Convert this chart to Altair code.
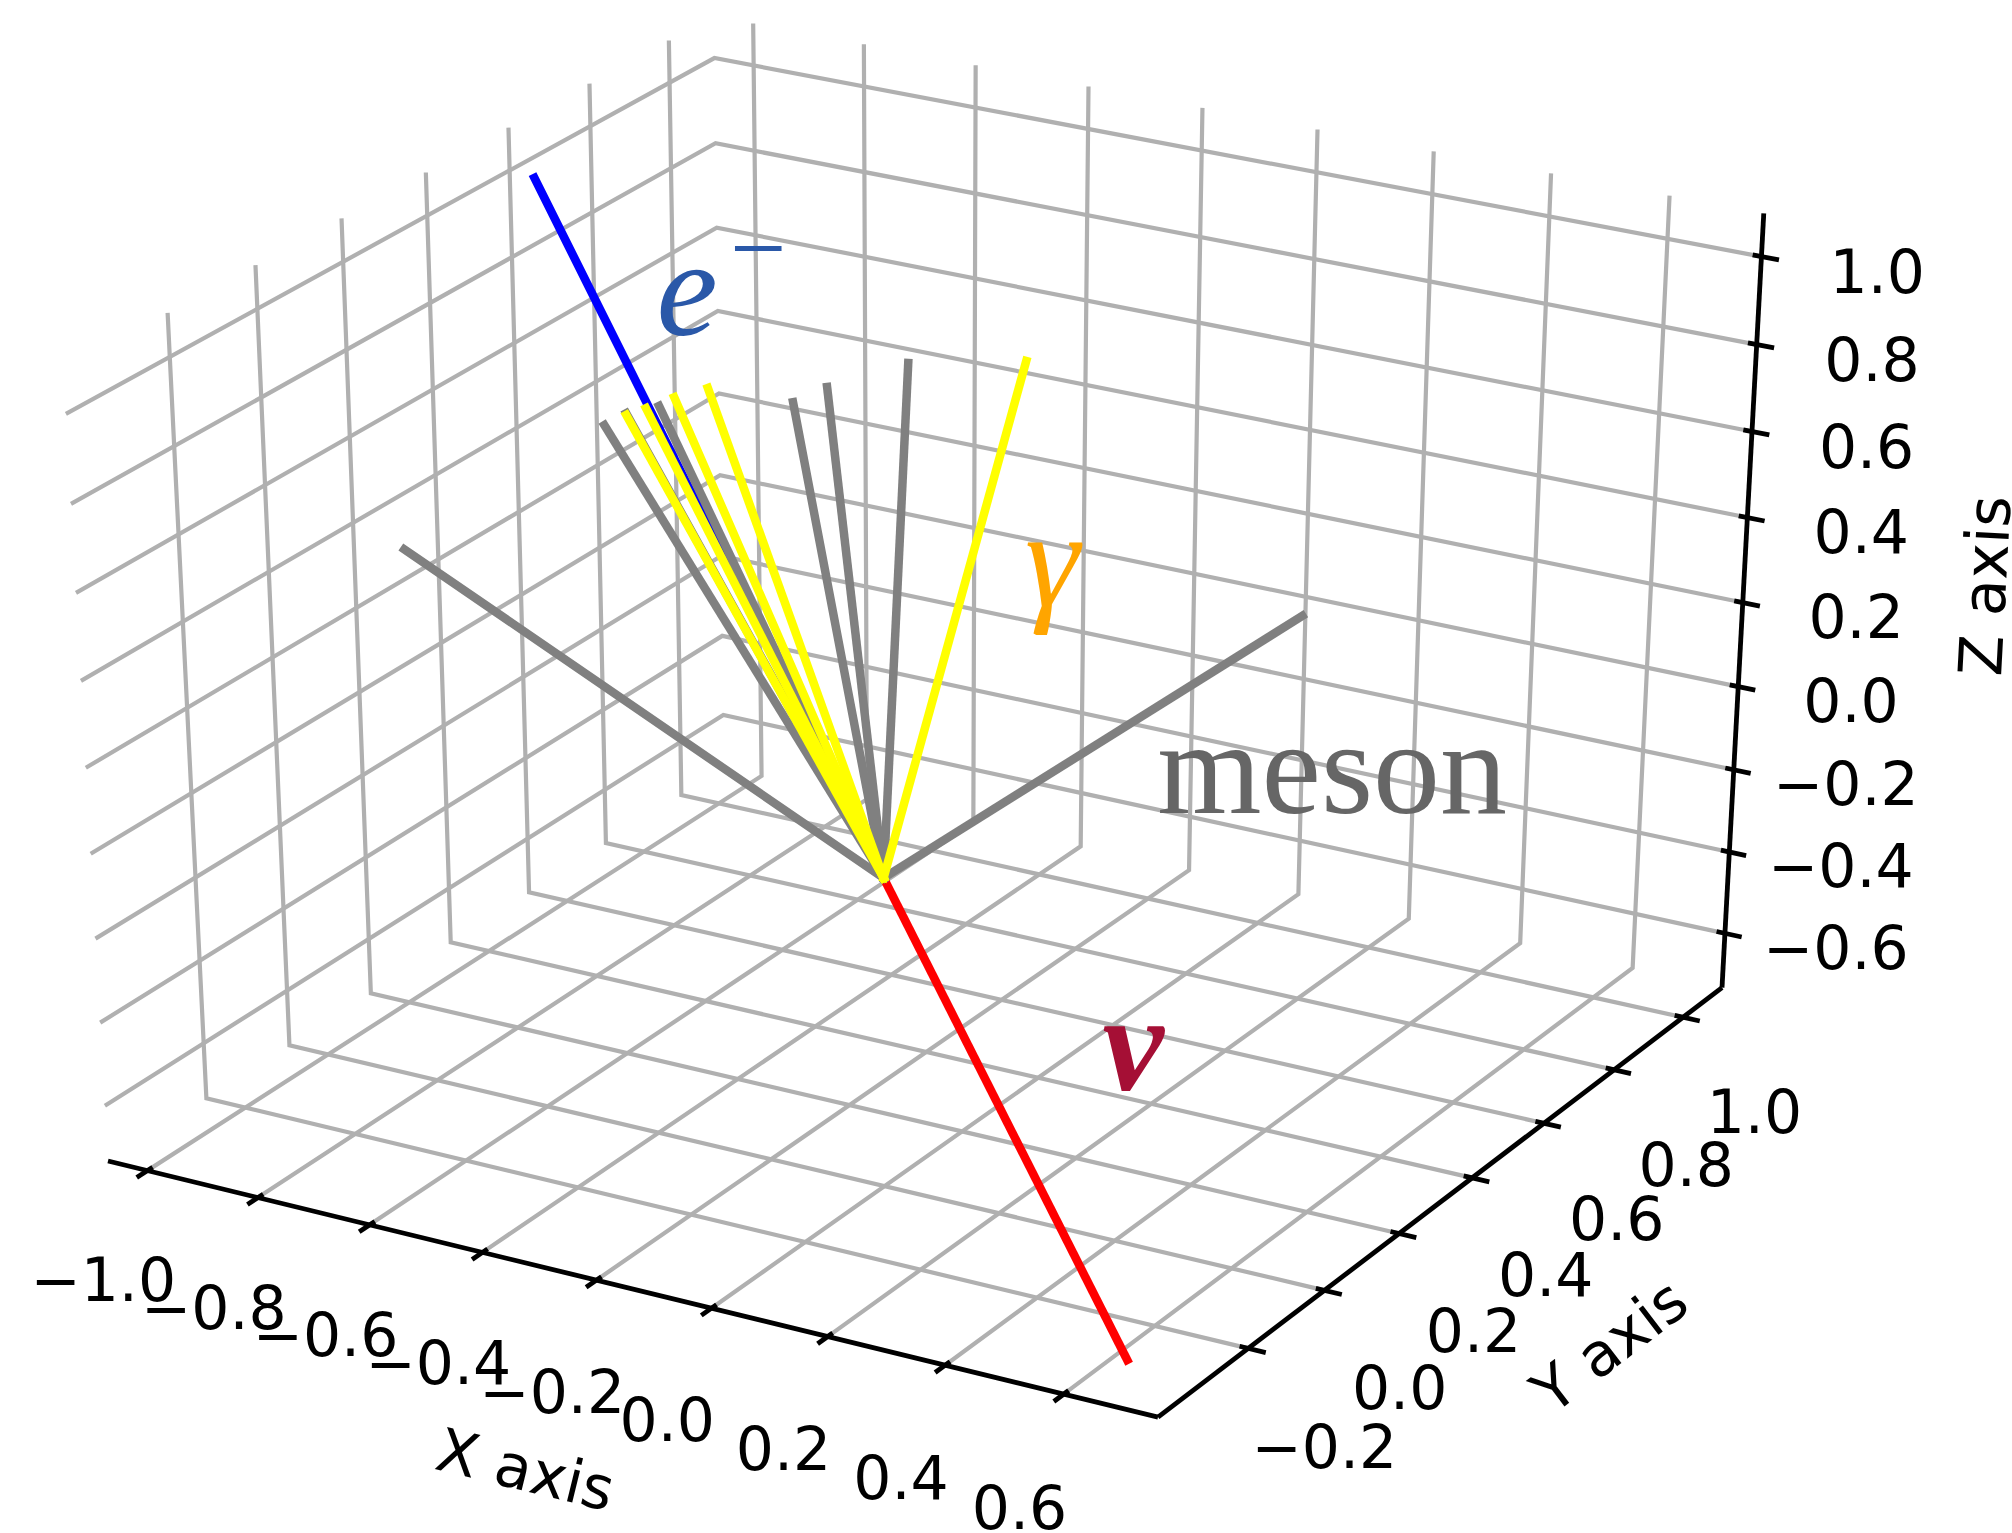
import math
import numpy as np
import pandas as pd
import altair as alt

# ---------------- data (3D, data units) ----------------
XLIM = [-1.035, 0.721]
YLIM = [-0.401, 1.084]
ZLIM = [-0.698, 1.061]
X_TICKS = [-1.0, -0.8, -0.6, -0.4, -0.2, 0.0, 0.2, 0.4, 0.6]
Y_TICKS = [-0.2, 0.0, 0.2, 0.4, 0.6, 0.8, 1.0]
Z_TICKS = [-0.6, -0.4, -0.2, 0.0, 0.2, 0.4, 0.6, 0.8, 1.0]

ORIGIN = (0.0, 0.0, 0.0)
ELECTRON_END = (-0.990, 0.55, 1.029)
NEUTRINO_END = (0.685, -0.401, -0.646)
MESON_X = [-0.827, 0.129, -0.691, -0.652, -0.594, -0.501, -0.441, -0.368]
MESON_Y = [0.0, 0.9, 0.3, 0.3, 0.3, 0.5, 0.5, 0.6]
MESON_Z = [0.520, 0.115, 0.674, 0.712, 0.744, 0.668, 0.719, 0.739]
GAMMA_X = [-0.652, -0.617, -0.567, -0.508, -0.163]
GAMMA_Y = [0.3, 0.3, 0.3, 0.3, 0.6]
GAMMA_Z = [0.708, 0.733, 0.771, 0.808, 0.798]

LABEL_E_POS = (-0.542, 0.3, 0.988)
LABEL_G_POS = (0.084, 0.3, 0.510)
LABEL_M_POS = (0.375, 0.6, -0.033)
LABEL_N_POS = (0.427, 0.0, -0.292)

AXIS_TITLES = ["X axis", "Y axis", "Z axis"]

# ---------------- view / projection settings ----------------
ELEV, AZIM, DIST = 30.0, -60.0, 10.0
VIEW_TX = [-0.079759, 0.093167]
VIEW_TY = [-0.097013, 0.079762]
W, H = 2012, 1533

lims = np.array([XLIM, YLIM, ZLIM], dtype=float)
lo, hi = lims[:, 0], lims[:, 1]
span = hi - lo
delta = span / 12.0
plo = lo - delta / 4.0
phi = hi + delta / 4.0
ctr = (lo + hi) / 2.0

el, az = math.radians(ELEV), math.radians(AZIM)
wv = np.array([math.cos(el) * math.cos(az), math.cos(el) * math.sin(az), math.sin(el)])
uv = np.cross([0.0, 0.0, 1.0], wv)
uv = uv / np.linalg.norm(uv)
vv = np.cross(wv, uv)


def proj(p):
    q = (np.asarray(p, dtype=float) - ctr) / span
    d = DIST - q @ wv
    return float(q @ uv / d), float(q @ vv / d)


SX = W / (VIEW_TX[1] - VIEW_TX[0])
SY = H / (VIEW_TY[1] - VIEW_TY[0])


def screen_angle(p1, p2):
    a = proj(p1)
    b = proj(p2)
    ang = math.degrees(math.atan2(-(b[1] - a[1]) * SY, (b[0] - a[0]) * SX))
    if ang <= -90:
        ang += 180
    if ang > 90:
        ang -= 180
    return ang % 360


XS = alt.Scale(domain=VIEW_TX, nice=False, zero=False)
YS = alt.Scale(domain=VIEW_TY, nice=False, zero=False)


def poly_rows(gid, pts):
    rows = []
    for i, p in enumerate(pts):
        tx, ty = proj(p)
        rows.append(dict(gid=gid, ord=i, tx=tx, ty=ty))
    return rows


def line_layer(rows, color, width, cap="butt"):
    return alt.Chart(pd.DataFrame(rows)).mark_line(
        color=color, strokeWidth=width, strokeCap=cap
    ).encode(
        x=alt.X("tx:Q", scale=XS, axis=None),
        y=alt.Y("ty:Q", scale=YS, axis=None),
        detail="gid:N",
        order="ord:Q",
    )


def pane_layer(corners, color):
    pts = [proj(c) for c in corners]
    xs = sorted(set(p[0] for p in pts))
    rows = []
    n = len(pts)
    for x in xs:
        ys = []
        for i in range(n):
            (x1, y1), (x2, y2) = pts[i], pts[(i + 1) % n]
            if min(x1, x2) - 1e-12 <= x <= max(x1, x2) + 1e-12:
                if abs(x2 - x1) < 1e-12:
                    ys += [y1, y2]
                else:
                    t = (x - x1) / (x2 - x1)
                    ys.append(y1 + t * (y2 - y1))
        rows.append(dict(tx=x, lo=min(ys), hi=max(ys)))
    return alt.Chart(pd.DataFrame(rows)).mark_area(color=color, opacity=1, interpolate="linear").encode(
        x=alt.X("tx:Q", scale=XS, axis=None),
        y=alt.Y("hi:Q", scale=YS, axis=None),
        y2="lo:Q",
        order="tx:Q",
    )


def text_layer(pos, text, **kw):
    tx, ty = proj(pos)
    df = pd.DataFrame([dict(tx=tx, ty=ty, label=text)])
    return alt.Chart(df).mark_text(**kw).encode(
        x=alt.X("tx:Q", scale=XS, axis=None),
        y=alt.Y("ty:Q", scale=YS, axis=None),
        text="label:N",
    )


def fmt(v):
    s = f"{v:.1f}"
    if s == "-0.0":
        s = "0.0"
    return s.replace("-", "\u2212")


x0, y0, z0 = plo
x1, y1, z1 = phi

# panes
panes = [
    pane_layer([(x0, y0, z0), (x0, y0, z1), (x0, y1, z1), (x0, y1, z0)], "#f7f7f7"),
    pane_layer([(x0, y1, z0), (x0, y1, z1), (x1, y1, z1), (x1, y1, z0)], "#f0f0f0"),
    pane_layer([(x0, y0, z0), (x1, y0, z0), (x1, y1, z0), (x0, y1, z0)], "#f4f4f4"),
]

# grid lines
grid = []
for i, v in enumerate(X_TICKS):
    grid += poly_rows(f"gx{i}", [(v, y0, z0), (v, y1, z0), (v, y1, z1)])
for i, v in enumerate(Y_TICKS):
    grid += poly_rows(f"gy{i}", [(x0, v, z1), (x0, v, z0), (x1, v, z0)])
for i, v in enumerate(Z_TICKS):
    grid += poly_rows(f"gz{i}", [(x1, y1, v), (x0, y1, v), (x0, y0, v)])

# axis lines
axes_rows = []
axes_rows += poly_rows("ax", [(x0, y0, z0), (x1, y0, z0)])
axes_rows += poly_rows("ay", [(x1, y0, z0), (x1, y1, z0)])
axes_rows += poly_rows("az", [(x1, y1, z0), (x1, y1, z1)])

# ticks + tick labels
OUT, INW = 0.2, 0.1
TL = (3.5 + 8.0) * 48.0 / (72.0 * (6.4 * 0.775 + 4.8 * 0.77))
AL = (4.0 + 21.0) * 48.0 / (72.0 * (6.4 * 0.775 + 4.8 * 0.77))
dx, dy, dz = delta
tick_rows, tlab = [], []
for i, v in enumerate(X_TICKS):
    tick_rows += poly_rows(f"tx{i}", [(v, y0 - OUT * dy, z0), (v, y0 + INW * dy, z0)])
    tx, ty = proj((v, y0 - TL * dy, z0 - TL * dz))
    tlab.append(dict(tx=tx, ty=ty, label=fmt(v)))
for i, v in enumerate(Y_TICKS):
    tick_rows += poly_rows(f"ty{i}", [(x1 + OUT * dx, v, z0), (x1 - INW * dx, v, z0)])
    tx, ty = proj((x1 + TL * dx, v, z0 - TL * dz))
    tlab.append(dict(tx=tx, ty=ty, label=fmt(v)))
for i, v in enumerate(Z_TICKS):
    tick_rows += poly_rows(f"tz{i}", [(x1 + OUT * dx, y1, v), (x1 - INW * dx, y1, v)])
    tx, ty = proj((x1 + TL * dx, y1 + TL * dy, v))
    tlab.append(dict(tx=tx, ty=ty, label=fmt(v)))

tick_label_layer = alt.Chart(pd.DataFrame(tlab)).mark_text(
    align="center", baseline="top", font="DejaVu Sans", fontSize=60, color="black"
).encode(
    x=alt.X("tx:Q", scale=XS, axis=None),
    y=alt.Y("ty:Q", scale=YS, axis=None),
    text="label:N",
)

cx, cy, cz = ctr
axis_title_layers = [
    text_layer((cx, y0 - AL * dy, z0 - AL * dz), AXIS_TITLES[0], align="center", baseline="middle",
               font="DejaVu Sans", fontSize=60, color="black",
               angle=screen_angle((x0, y0, z0), (x1, y0, z0))),
    text_layer((x1 + AL * dx, cy, z0 - AL * dz), AXIS_TITLES[1], align="center", baseline="middle",
               font="DejaVu Sans", fontSize=60, color="black",
               angle=screen_angle((x1, y0, z0), (x1, y1, z0))),
    text_layer((x1 + AL * dx, y1 + AL * dy, cz), AXIS_TITLES[2], align="center", baseline="middle",
               font="DejaVu Sans", fontSize=60, color="black",
               angle=screen_angle((x1, y1, z0), (x1, y1, z1))),
]

# particle tracks
e_rows = poly_rows("e", [ORIGIN, ELECTRON_END])
n_rows = poly_rows("nu", [ORIGIN, NEUTRINO_END])
m_rows = []
for i, (a, b, c) in enumerate(zip(MESON_X, MESON_Y, MESON_Z)):
    m_rows += poly_rows(f"m{i}", [ORIGIN, (a, b, c)])
g_rows = []
for i, (a, b, c) in enumerate(zip(GAMMA_X, GAMMA_Y, GAMMA_Z)):
    g_rows += poly_rows(f"g{i}", [ORIGIN, (a, b, c)])

LW = 8.5
tracks = [
    line_layer(e_rows, "#0000ff", LW, "square"),
    line_layer(n_rows, "#ff0000", LW, "square"),
    line_layer(m_rows, "#808080", LW, "square"),
    line_layer(g_rows, "#ffff00", LW, "square"),
]

SERIF = "Liberation Serif"
labels = [
    text_layer(LABEL_E_POS, "e", font=SERIF, fontStyle="italic", fontSize=138, color="#2a58a8",
               align="center", baseline="middle", dy=-10),
    text_layer(LABEL_E_POS, "\u2212", font=SERIF, fontSize=100, color="#2a58a8",
               align="center", baseline="middle", dx=71, dy=-52),
    text_layer(LABEL_G_POS, "\u03b3", font=SERIF, fontStyle="italic", fontSize=138, color="#ffa500",
               align="center", baseline="middle", dy=-25),
    text_layer(LABEL_M_POS, "meson", font=SERIF, fontSize=134, color="#666666",
               align="center", baseline="middle", dy=-10),
    text_layer(LABEL_N_POS, "\u03bd", font=SERIF, fontStyle="italic", fontWeight="bold", fontSize=138,
               color="#a50f35", align="center", baseline="middle", dy=-10),
]

layers = (
    panes
    + [line_layer(grid, "#b0b0b0", 4.2)]
    + [line_layer(axes_rows, "black", 4.8), line_layer(tick_rows, "black", 4.8)]
    + [tick_label_layer]
    + axis_title_layers
    + tracks
    + labels
)

chart = alt.layer(*layers).properties(
    width=W, height=H, padding=0, autosize="none", background="white"
).configure_view(strokeWidth=0)

chart.save("out.html", embed_options={"renderer": "svg", "actions": False})
